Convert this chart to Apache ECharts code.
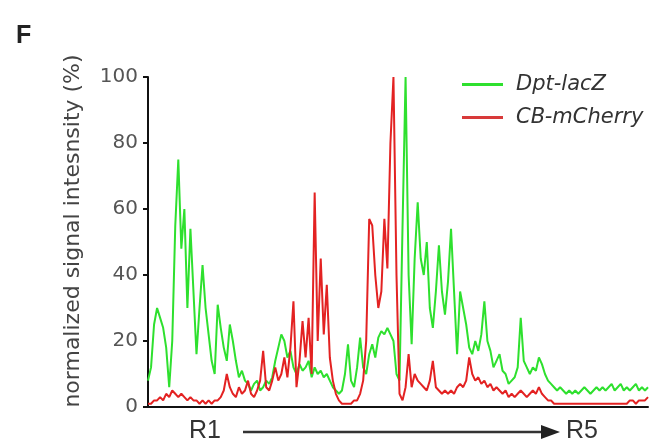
<!DOCTYPE html>
<html>
<head>
<meta charset="utf-8">
<script src="https://cdn.jsdelivr.net/npm/echarts@6/dist/echarts.min.js"></script>
<style>
  html, body { margin: 0; padding: 0; background: #fff; }
  #chart { width: 656px; height: 445px; }
</style>
</head>
<body>
<div id="chart"></div>
<script>
// profile along the gut, one sample every ~3 px from R1 to R5
var dptLacZ = [8, 12, 25, 30, 27, 24, 18, 6, 20, 55, 75, 48, 60, 30, 54, 35, 16, 30, 43, 30,
  22, 14, 10, 31, 24, 18, 14, 25, 20, 14, 9, 11, 8, 7, 5, 7, 8, 5, 6, 8,
  7, 9, 14, 18, 22, 20, 15, 17, 12, 10, 13, 11, 12, 14, 9, 12, 10, 11, 9, 10,
  8, 6, 5, 4, 5, 10, 19, 8, 6, 12, 21, 12, 10, 16, 19, 15, 21, 23, 22, 24,
  22, 20, 10, 8, 55, 100, 40, 19, 45, 62, 45, 40, 50, 30, 24, 35, 49, 35, 28, 38,
  54, 35, 16, 35, 30, 25, 18, 16, 20, 17, 22, 32, 20, 17, 12, 14, 16, 11, 10, 7,
  8, 9, 12, 27, 14, 12, 10, 12, 11, 15, 13, 10, 8, 7, 6, 5, 6, 5, 4, 5,
  4, 5, 4, 5, 6, 5, 4, 5, 6, 5, 6, 5, 6, 7, 5, 6, 7, 5, 6, 5,
  6, 7, 5, 6, 5, 6];
var cbMCherry = [1, 1, 2, 2, 3, 2, 4, 3, 5, 4, 3, 4, 3, 2, 3, 2, 2, 1, 2, 1,
  2, 1, 2, 2, 3, 5, 10, 6, 4, 3, 6, 4, 5, 8, 4, 3, 5, 8, 17, 6,
  5, 8, 12, 8, 10, 15, 9, 18, 32, 6, 14, 26, 15, 27, 10, 65, 20, 45, 22, 37,
  15, 8, 4, 2, 1, 1, 1, 1, 2, 2, 4, 8, 20, 57, 55, 40, 30, 35, 57, 42,
  80, 100, 40, 4, 2, 6, 16, 6, 10, 8, 7, 6, 5, 8, 14, 6, 5, 4, 5, 4,
  5, 4, 6, 7, 6, 8, 15, 10, 8, 9, 7, 8, 6, 7, 5, 6, 5, 4, 5, 3,
  4, 3, 4, 5, 4, 3, 4, 5, 4, 6, 4, 3, 2, 2, 1, 1, 1, 1, 1, 1,
  1, 1, 1, 1, 1, 1, 1, 1, 1, 1, 1, 1, 1, 1, 1, 1, 1, 1, 1, 2,
  2, 1, 2, 2, 2, 3, 2, 2];
var yTicks = [0, 20, 40, 60, 80, 100];

var positions = dptLacZ.map(function (v, i) { return i; });

var chart = echarts.init(document.getElementById('chart'));
chart.setOption({
  animation: false,
  grid: { left: 148, right: 8, top: 77, bottom: 38 },
  legend: {
    orient: 'vertical',
    left: 457,
    top: 69,
    itemWidth: 41,
    itemHeight: 3,
    itemGap: 12,
    icon: 'rect',
    textStyle: { fontFamily: 'DejaVu Sans', fontStyle: 'italic', fontSize: 21, color: '#333', padding: [0, 0, 0, 8] },
    data: ['Dpt-lacZ', 'CB-mCherry']
  },
  xAxis: {
    type: 'value',
    min: 0,
    max: positions.length - 1,
    axisLine: { lineStyle: { color: '#111', width: 2 } },
    axisTick: { show: false },
    axisLabel: { show: false },
    splitLine: { show: false }
  },
  yAxis: {
    type: 'value',
    min: 0,
    max: 100,
    interval: 20,
    name: 'normalized signal intesnsity (%)',
    nameLocation: 'middle',
    nameRotate: 90,
    nameGap: 64,
    nameTextStyle: { fontFamily: 'DejaVu Sans', fontSize: 22, color: '#444', padding: [0, 0, 0, 22] },
    axisLine: { show: true, lineStyle: { color: '#111', width: 2 } },
    axisTick: { show: true, inside: false, length: 5, lineStyle: { color: '#111', width: 2 } },
    axisLabel: {
      fontFamily: 'DejaVu Sans', fontSize: 20, color: '#555', margin: 10,
      formatter: function (v) { return yTicks.indexOf(v) >= 0 ? v : ''; }
    },
    splitLine: { show: false }
  },
  graphic: [
    { type: 'text', left: 16, top: 24, style: { text: 'F', font: 'bold 25px Liberation Sans', fill: '#222' } },
    { type: 'text', left: 189, top: 419, style: { text: 'R1', font: '25px Liberation Sans', fill: '#333' } },
    { type: 'text', left: 566, top: 419, style: { text: 'R5', font: '25px Liberation Sans', fill: '#333' } },
    { type: 'line', shape: { x1: 243, y1: 432, x2: 545, y2: 432 }, style: { stroke: '#333', lineWidth: 2.5 } },
    { type: 'polygon', shape: { points: [[541, 425], [560, 432], [541, 439]] }, style: { fill: '#222' } }
  ],
  series: [
    {
      name: 'Dpt-lacZ',
      type: 'line',
      data: positions.map(function (x, i) { return [x, dptLacZ[i]]; }),
      showSymbol: false,
      lineStyle: { color: '#2ee02e', width: 2 },
      itemStyle: { color: '#2ee02e' }
    },
    {
      name: 'CB-mCherry',
      type: 'line',
      data: positions.map(function (x, i) { return [x, cbMCherry[i]]; }),
      showSymbol: false,
      lineStyle: { color: '#e32222', width: 2 },
      itemStyle: { color: '#d83a3a' }
    }
  ]
});
</script>
</body>
</html>
